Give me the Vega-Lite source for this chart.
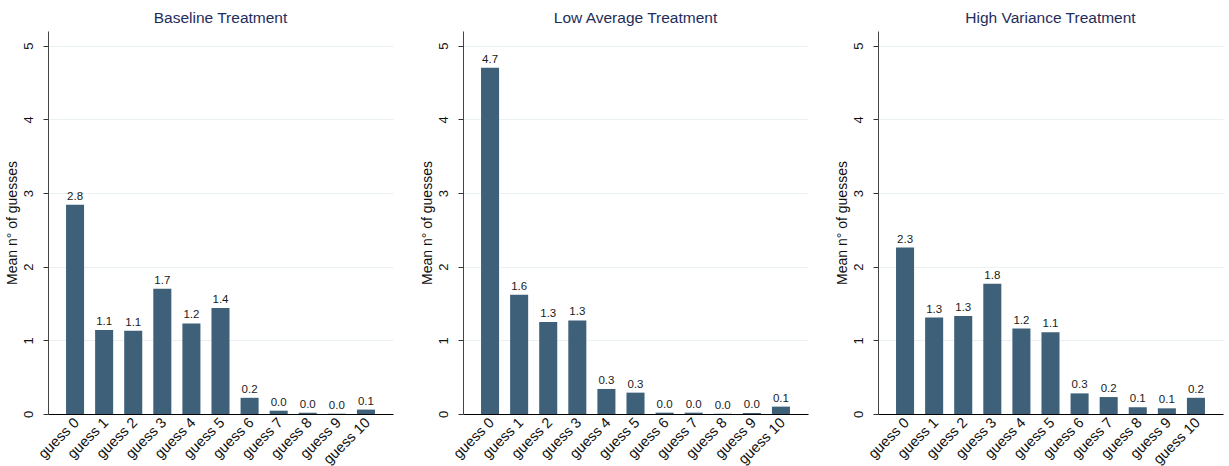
{
  "$schema": "https://vega.github.io/schema/vega-lite/v6.json",
  "autosize": {"type": "pad"},
  "padding": {"left": 5, "top": 10, "right": 5, "bottom": 0},
  "background": "white",
  "spacing": 70,
  "bounds": "flush",
  "datasets": {
    "guesses": [
      {"treatment": "Baseline Treatment", "guess": "guess 0", "mean": 2.84},
      {"treatment": "Baseline Treatment", "guess": "guess 1", "mean": 1.14},
      {"treatment": "Baseline Treatment", "guess": "guess 2", "mean": 1.13},
      {"treatment": "Baseline Treatment", "guess": "guess 3", "mean": 1.70},
      {"treatment": "Baseline Treatment", "guess": "guess 4", "mean": 1.23},
      {"treatment": "Baseline Treatment", "guess": "guess 5", "mean": 1.44},
      {"treatment": "Baseline Treatment", "guess": "guess 6", "mean": 0.22},
      {"treatment": "Baseline Treatment", "guess": "guess 7", "mean": 0.045},
      {"treatment": "Baseline Treatment", "guess": "guess 8", "mean": 0.018},
      {"treatment": "Baseline Treatment", "guess": "guess 9", "mean": 0.004},
      {"treatment": "Baseline Treatment", "guess": "guess 10", "mean": 0.06},
      {"treatment": "Low Average Treatment", "guess": "guess 0", "mean": 4.70},
      {"treatment": "Low Average Treatment", "guess": "guess 1", "mean": 1.62},
      {"treatment": "Low Average Treatment", "guess": "guess 2", "mean": 1.25},
      {"treatment": "Low Average Treatment", "guess": "guess 3", "mean": 1.27},
      {"treatment": "Low Average Treatment", "guess": "guess 4", "mean": 0.34},
      {"treatment": "Low Average Treatment", "guess": "guess 5", "mean": 0.29},
      {"treatment": "Low Average Treatment", "guess": "guess 6", "mean": 0.018},
      {"treatment": "Low Average Treatment", "guess": "guess 7", "mean": 0.018},
      {"treatment": "Low Average Treatment", "guess": "guess 8", "mean": 0.004},
      {"treatment": "Low Average Treatment", "guess": "guess 9", "mean": 0.014},
      {"treatment": "Low Average Treatment", "guess": "guess 10", "mean": 0.10},
      {"treatment": "High Variance Treatment", "guess": "guess 0", "mean": 2.26},
      {"treatment": "High Variance Treatment", "guess": "guess 1", "mean": 1.31},
      {"treatment": "High Variance Treatment", "guess": "guess 2", "mean": 1.33},
      {"treatment": "High Variance Treatment", "guess": "guess 3", "mean": 1.77},
      {"treatment": "High Variance Treatment", "guess": "guess 4", "mean": 1.16},
      {"treatment": "High Variance Treatment", "guess": "guess 5", "mean": 1.11},
      {"treatment": "High Variance Treatment", "guess": "guess 6", "mean": 0.28},
      {"treatment": "High Variance Treatment", "guess": "guess 7", "mean": 0.23},
      {"treatment": "High Variance Treatment", "guess": "guess 8", "mean": 0.09},
      {"treatment": "High Variance Treatment", "guess": "guess 9", "mean": 0.077},
      {"treatment": "High Variance Treatment", "guess": "guess 10", "mean": 0.22}
    ]
  },
  "config": {
    "font": "Liberation Sans",
    "view": {"stroke": null},
    "title": {"fontSize": 15.5, "fontWeight": "normal", "color": "#1f2d5c", "anchor": "middle", "baseline": "alphabetic", "offset": 5},
    "axisY": {
      "labelAngle": -90,
      "labelAlign": "center",
      "labelBaseline": "bottom",
      "labelFontSize": 13,
      "labelColor": "#111111",
      "labelPadding": 8,
      "tickSize": 5,
      "tickColor": "#333333",
      "domainColor": "#444444",
      "gridColor": "#eaf1f1",
      "titleFontSize": 14,
      "titleFontWeight": "normal",
      "titleColor": "#111111",
      "titlePadding": 3
    },
    "axisX": {
      "labelAngle": -45,
      "labelAlign": "right",
      "labelBaseline": "alphabetic",
      "labelFontSize": 14.5,
      "labelColor": "#111111",
      "labelPadding": 9,
      "labelOffset": 5,
      "ticks": false,
      "domainColor": "#000000",
      "grid": false
    }
  },
  "hconcat": [
    {
      "title": "Baseline Treatment",
      "width": 345,
      "height": 383,
      "data": {"name": "guesses"},
      "transform": [{"filter": "datum.treatment === 'Baseline Treatment'"}],
      "encoding": {
        "x": {"field": "guess", "type": "nominal", "sort": null, "scale": {"paddingInner": 0.38, "paddingOuter": 0.62}, "axis": {"title": null}},
        "y": {"field": "mean", "type": "quantitative", "scale": {"domain": [0, 5.2], "nice": false}, "axis": {"title": "Mean n° of guesses", "values": [0, 1, 2, 3, 4, 5]}}
      },
      "layer": [
        {"mark": {"type": "bar", "color": "#3e6078"}},
        {"mark": {"type": "text", "baseline": "bottom", "dy": -3, "fontSize": 11.5, "color": "#1a1a1a"}, "encoding": {"text": {"field": "mean", "type": "quantitative", "format": ".1f"}}}
      ]
    },
    {
      "title": "Low Average Treatment",
      "width": 345,
      "height": 383,
      "data": {"name": "guesses"},
      "transform": [{"filter": "datum.treatment === 'Low Average Treatment'"}],
      "encoding": {
        "x": {"field": "guess", "type": "nominal", "sort": null, "scale": {"paddingInner": 0.38, "paddingOuter": 0.62}, "axis": {"title": null}},
        "y": {"field": "mean", "type": "quantitative", "scale": {"domain": [0, 5.2], "nice": false}, "axis": {"title": "Mean n° of guesses", "values": [0, 1, 2, 3, 4, 5]}}
      },
      "layer": [
        {"mark": {"type": "bar", "color": "#3e6078"}},
        {"mark": {"type": "text", "baseline": "bottom", "dy": -3, "fontSize": 11.5, "color": "#1a1a1a"}, "encoding": {"text": {"field": "mean", "type": "quantitative", "format": ".1f"}}}
      ]
    },
    {
      "title": "High Variance Treatment",
      "width": 345,
      "height": 383,
      "data": {"name": "guesses"},
      "transform": [{"filter": "datum.treatment === 'High Variance Treatment'"}],
      "encoding": {
        "x": {"field": "guess", "type": "nominal", "sort": null, "scale": {"paddingInner": 0.38, "paddingOuter": 0.62}, "axis": {"title": null}},
        "y": {"field": "mean", "type": "quantitative", "scale": {"domain": [0, 5.2], "nice": false}, "axis": {"title": "Mean n° of guesses", "values": [0, 1, 2, 3, 4, 5]}}
      },
      "layer": [
        {"mark": {"type": "bar", "color": "#3e6078"}},
        {"mark": {"type": "text", "baseline": "bottom", "dy": -3, "fontSize": 11.5, "color": "#1a1a1a"}, "encoding": {"text": {"field": "mean", "type": "quantitative", "format": ".1f"}}}
      ]
    }
  ]
}
